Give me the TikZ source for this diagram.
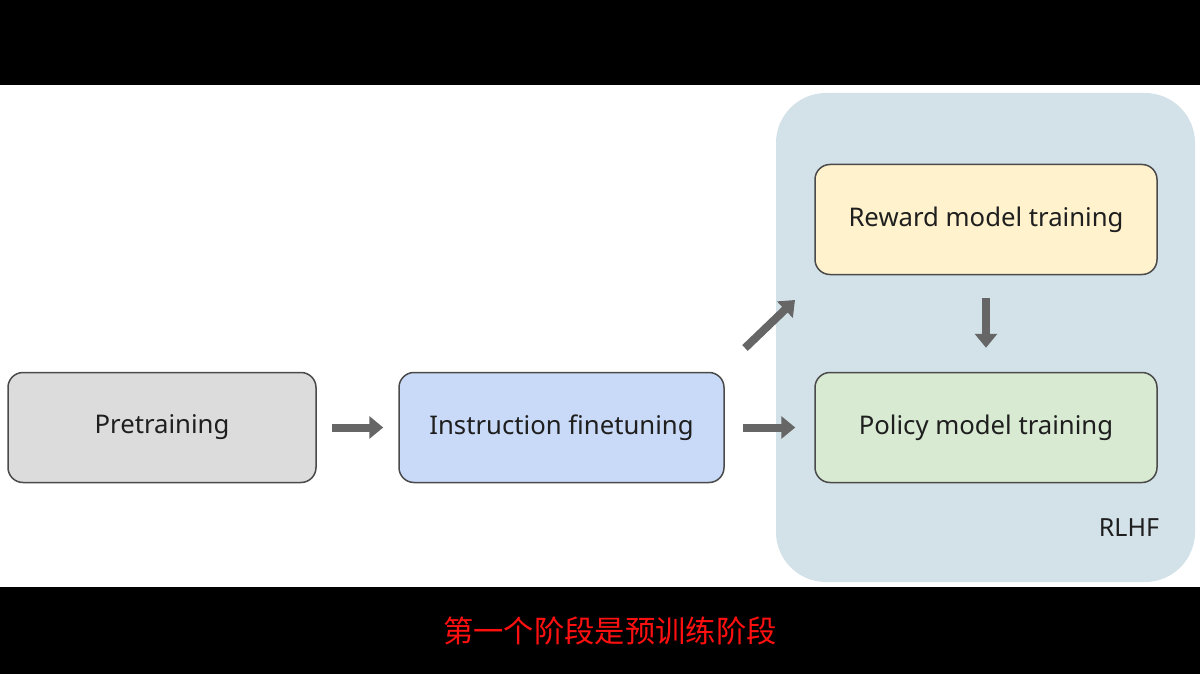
\documentclass[tikz,border=0pt]{standalone}
\usepackage{fontspec}
\setmainfont{Noto Sans}
\newfontfamily\cjk{Noto Sans CJK SC}
\usetikzlibrary{arrows.meta}
\definecolor{grayfill}{HTML}{DCDCDC}
\definecolor{bluefill}{HTML}{C9DAF8}
\definecolor{yellowfill}{HTML}{FFF2CC}
\definecolor{greenfill}{HTML}{D9EAD3}
\definecolor{rlhffill}{HTML}{D3E2E8}
\definecolor{boxline}{HTML}{4A4A4A}
\definecolor{arrowgray}{HTML}{666666}
\definecolor{subred}{HTML}{FF1010}
\tikzset{
  stagebox/.style={draw=boxline, line width=1.5pt, rounded corners=15pt, minimum width=#1, minimum height=110pt, inner sep=0pt, font=\fontsize{25.7}{30}\selectfont, text=black!88},
  stagebox/.default=310pt,
  blockarrow/.style={draw=arrowgray, line width=8pt, -{Triangle[length=14pt,width=22pt]}}
}
\begin{document}
\begin{tikzpicture}[x=1pt,y=-1pt]
\useasboundingbox (0,0) rectangle (1200,674);
\fill[black] (0,0) rectangle (1200,674);
\fill[white] (0,85) rectangle (1200,587);
\fill[rlhffill] (776,93) [rounded corners=50pt] -- (1195,93) -- (1195,582) -- (776,582) -- cycle;
\node[stagebox=308pt, fill=grayfill] (pre) at (162,427.5) {Pretraining};
\node[stagebox=325pt, fill=bluefill] (ift) at (561.5,427.5) {Instruction finetuning};
\node[stagebox=342pt, fill=yellowfill] (rm) at (986,219.5) {Reward model training};
\node[stagebox=342pt, fill=greenfill] (pm) at (986,427.5) {Policy model training};
\node[font=\fontsize{25}{30}\selectfont, text=black!88] (rlhf) at (1129,528) {RLHF};
\node[font=\cjk\fontsize{30.3}{34}\selectfont, text=subred] (sub) at (610,631) {第一个阶段是预训练阶段};
\coordinate (a1s) at ([xshift=15pt]pre.east);
\coordinate (a1e) at ([xshift=-15pt]ift.west);
\draw[blockarrow] (a1s) -- (a1e);
\coordinate (a2s) at ([xshift=18pt]ift.east);
\coordinate (a2e) at ([xshift=-19pt]pm.west);
\draw[blockarrow] (a2s) -- (a2e);
\coordinate (a3s) at (745,348);
\coordinate (a3e) at (795,300);
\draw[blockarrow] (a3s) -- (a3e);
\coordinate (a4s) at ([yshift=-23pt]rm.south);
\coordinate (a4e) at ([yshift=24pt]pm.north);
\draw[blockarrow] (a4s) -- (a4e);
\end{tikzpicture}
\end{document}
